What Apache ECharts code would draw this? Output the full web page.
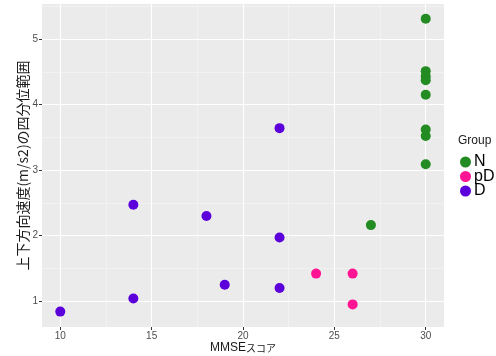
<!DOCTYPE html>
<html><head><meta charset="utf-8">
<script src="https://cdn.jsdelivr.net/npm/echarts@6/dist/echarts.min.js"></script>
<style>html,body{margin:0;padding:0;background:#fff}#c{width:496px;height:356px}</style>
</head><body><div id="c"></div>
<script>
const groups = ['N', 'pD', 'D'];
const colors = ['#228B22', '#FF1493', '#5B00DA'];
const nX = [27, 30, 30, 30, 30, 30, 30, 30, 30];
const nY = [2.16, 5.31, 4.51, 4.43, 4.37, 4.15, 3.62, 3.52, 3.09];
const pdX = [24, 26, 26];
const pdY = [1.42, 1.42, 0.95];
const dX = [10, 14, 14, 18, 19, 22, 22, 22];
const dY = [0.84, 1.04, 2.47, 2.30, 1.25, 3.64, 1.97, 1.20];
const xTicks = [10, 15, 20, 25, 30];
const xMinor = [12.5, 17.5, 22.5, 27.5];
const yTicks = [1, 2, 3, 4, 5];
const yMinor = [1.5, 2.5, 3.5, 4.5, 5.5];
const xRange = [9, 31];
const yRange = [0.605, 5.535];

const pairs = (xs, ys) => xs.map((x, i) => [x, ys[i]]);
const seriesData = [pairs(nX, nY), pairs(pdX, pdY), pairs(dX, dY)];

const chart = echarts.init(document.getElementById('c'), null, {renderer: 'canvas'});
const tickColor = '#4D4D4D';
chart.setOption({
  animation: false,
  title: {text: 'Group', left: 453, top: 130, textStyle: {fontSize: 12, fontWeight: 'normal', color: '#1a1a1a', fontFamily: 'Liberation Sans'}},
  legend: {
    data: groups, orient: 'vertical', left: 455, top: 149, itemWidth: 11, itemHeight: 11, itemGap: -1.5,
    icon: 'circle',
    textStyle: {fontSize: 16, color: '#000', fontFamily: 'Liberation Sans', padding: [0, 0, 0, -2], lineHeight: 13}
  },
  grid: {left: 42, right: 52, top: 4, bottom: 29, show: true, backgroundColor: '#EBEBEB', borderWidth: 0, outerBoundsMode: 'none', containLabel: false},
  xAxis: [{
    type: 'value', min: xRange[0], max: xRange[1],
    name: '{a|MMSE}{b|スコア}', nameLocation: 'middle', nameGap: 15, nameMoveOverlap: false,
    nameTextStyle: {rich: {a: {fontSize: 12, color: '#1a1a1a', fontFamily: 'Liberation Sans'}, b: {fontSize: 10, color: '#1a1a1a', fontFamily: 'Noto Sans CJK JP'}}},
    axisLine: {show: false},
    axisTick: {show: true, length: 3, customValues: xTicks, lineStyle: {color: '#333'}},
    axisLabel: {customValues: xTicks, color: tickColor, fontSize: 10, margin: 4, fontFamily: 'Liberation Sans'},
    splitLine: {show: true, lineStyle: {color: '#fff', width: 1.1}}
  }, {
    type: 'value', min: xRange[0], max: xRange[1], position: 'bottom',
    axisLine: {show: false}, axisTick: {show: false, customValues: xMinor}, axisLabel: {show: false, customValues: xMinor},
    splitLine: {show: true, lineStyle: {color: '#F7F7F7', width: 0.6}}
  }],
  yAxis: [{
    type: 'value', min: yRange[0], max: yRange[1],
    name: '上下方向速度(m/s2)の四分位範囲', nameLocation: 'middle', nameGap: 12, nameMoveOverlap: false,
    nameTextStyle: {fontSize: 14, color: '#1a1a1a', fontFamily: 'Noto Sans CJK JP'},
    axisLine: {show: false},
    axisTick: {show: true, length: 3, customValues: yTicks, lineStyle: {color: '#333'}},
    axisLabel: {customValues: yTicks, color: tickColor, fontSize: 10, margin: 4, fontFamily: 'Liberation Sans'},
    splitLine: {show: true, lineStyle: {color: '#fff', width: 1.1}}
  }, {
    type: 'value', min: yRange[0], max: yRange[1], position: 'left',
    axisLine: {show: false}, axisTick: {show: false, customValues: yMinor}, axisLabel: {show: false, customValues: yMinor},
    splitLine: {show: true, lineStyle: {color: '#F7F7F7', width: 0.6}}
  }],
  series: groups.map((g, i) => ({
    name: g, type: 'scatter', data: seriesData[i], symbolSize: 10,
    itemStyle: {color: colors[i], opacity: 1}
  }))
});
</script></body></html>
